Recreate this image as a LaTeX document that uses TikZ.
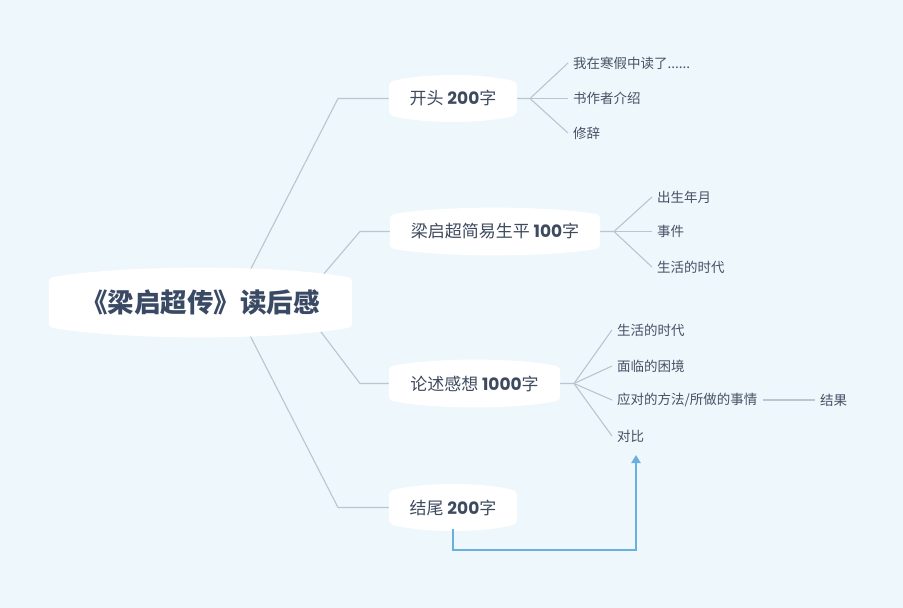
\documentclass[tikz,border=0pt]{standalone}
\usepackage{fontspec}
\setmainfont{Noto Sans CJK SC}
\newfontfamily\numfont{Poppins}
\usetikzlibrary{calc,arrows.meta}
\pgfdeclarelayer{bgl}
\pgfdeclarelayer{lines}
\pgfdeclarelayer{boxes}
\pgfsetlayers{bgl,lines,boxes,main}
\definecolor{bgc}{HTML}{EEF7FB}
\definecolor{titlec}{HTML}{3A4A65}
\definecolor{nodec}{HTML}{3E4A5E}
\definecolor{childc}{HTML}{465166}
\definecolor{linec}{HTML}{B8C6D2}
\definecolor{bluec}{HTML}{6AB0DF}
\newcommand\num[1]{{\numfont\bfseries #1}}
\newcommand\barrel[2]{%
  \begin{pgfonlayer}{boxes}
  \fill[white, rounded corners=4pt] (#1.north west) .. controls ($(#1.north west)!0.25!(#1.north east)+(0,{-4/3*#2})$) and ($(#1.north west)!0.75!(#1.north east)+(0,{-4/3*#2})$) .. (#1.north east) -- (#1.south east) .. controls ($(#1.south west)!0.75!(#1.south east)+(0,{4/3*#2})$) and ($(#1.south west)!0.25!(#1.south east)+(0,{4/3*#2})$) .. (#1.south west) -- cycle;
  \end{pgfonlayer}}
\tikzset{
  rootbox/.style={inner sep=0pt, text=titlec, font=\bfseries\fontsize{26.5}{30}\selectfont},
  mainbox/.style={inner sep=0pt, text=nodec, font=\fontsize{17}{20}\selectfont},
  leaf/.style={anchor=west, inner xsep=5pt, inner ysep=2pt, text=childc, font=\fontsize{13.5}{16}\selectfont},
  conn/.style={draw=linec, line width=1.1pt},
  bluearrow/.style={draw=bluec, line width=2.2pt, -{Triangle[width=9pt,length=8pt]}}
}
\begin{document}
\begin{tikzpicture}[x=1pt,y=-1pt]
\begin{pgfonlayer}{bgl}
\fill[bgc] (0,0) rectangle (903,608);
\end{pgfonlayer}
\useasboundingbox (0,0) rectangle (903,608);

% main nodes
\node[rootbox, minimum width=303pt, minimum height=49pt] (root) at (200.5,302.5) {《梁启超传》读后感};
\node[mainbox, minimum width=128pt, minimum height=32pt] (n1) at (453,98.5) {开头 \num{200}字};
\node[mainbox, minimum width=210pt, minimum height=33pt] (n2) at (495,231.5) {梁启超简易生平 \num{100}字};
\node[mainbox, minimum width=171pt, minimum height=33pt] (n3) at (474.5,383.5) {论述感想 \num{1000}字};
\node[mainbox, minimum width=128pt, minimum height=32pt] (n4) at (453,507.5) {结尾 \num{200}字};
\barrel{root}{10}
\barrel{n1}{7}
\barrel{n2}{7}
\barrel{n3}{7}
\barrel{n4}{7}

% leaves
\node[leaf] (c11) at (568,63) {我在寒假中读了......};
\node[leaf] (c12) at (568,98.5) {书作者介绍};
\node[leaf] (c13) at (568,133) {修辞};
\node[leaf] (c21) at (652,197) {出生年月};
\node[leaf] (c22) at (652,231.5) {事件};
\node[leaf] (c23) at (652,267) {生活的时代};
\node[leaf] (c31) at (612,330) {生活的时代};
\node[leaf] (c32) at (612,366) {面临的困境};
\node[leaf] (c33) at (612,400) {应对的方法/所做的事情};
\node[leaf] (c34) at (612,436) {对比};
\node[leaf] (c35) at (815,400) {结果};

% connector coordinates
\coordinate (r1) at (240,290);
\coordinate (r2) at (310,290);
\coordinate (r3) at (309,316);
\coordinate (r4) at (240,316);
\coordinate (k1) at (338,98.5);
\coordinate (k2) at (360,231.5);
\coordinate (k3) at (360,383.5);
\coordinate (k4) at (338,507.5);
\coordinate (f1) at (530,98.5);
\coordinate (f2) at (614,231.5);
\coordinate (f3) at (574,383.5);
\coordinate (tgt) at (636,455);
\coordinate (bc) at (636,550);

\begin{pgfonlayer}{lines}
\draw[conn] (r1) -- (k1) -- (n1.west);
\draw[conn] (r2) -- (k2) -- (n2.west);
\draw[conn] (r3) -- (k3) -- (n3.west);
\draw[conn] (r4) -- (k4) -- (n4.west);
\draw[conn] (n1.east) -- (f1) -- (c11.west);
\draw[conn] (f1) -- (c12.west);
\draw[conn] (f1) -- (c13.west);
\draw[conn] (n2.east) -- (f2) -- (c21.west);
\draw[conn] (f2) -- (c22.west);
\draw[conn] (f2) -- (c23.west);
\draw[conn] (n3.east) -- (f3) -- (c31.west);
\draw[conn] (f3) -- (c32.west);
\draw[conn] (f3) -- (c33.west);
\draw[conn] (f3) -- (c34.west);
\draw[conn] (c33.east) -- (c35.west);
\end{pgfonlayer}

\draw[bluearrow] ([yshift=-5pt]n4.south) |- (bc) -- (tgt);
\end{tikzpicture}
\end{document}
